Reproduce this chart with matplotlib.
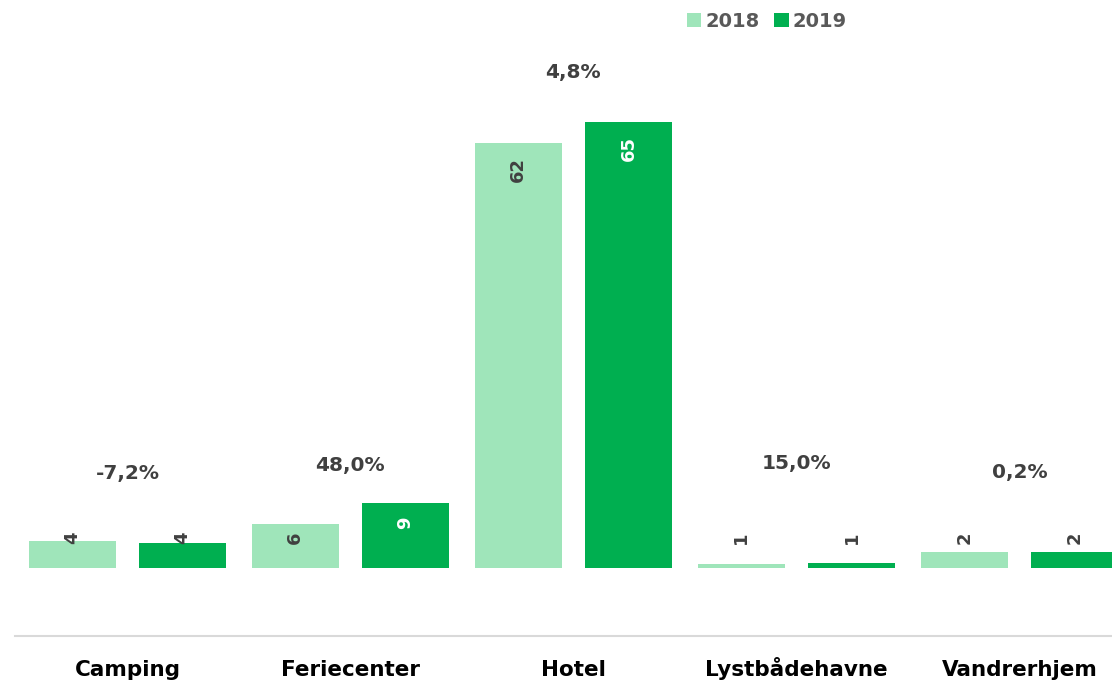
import matplotlib
matplotlib.use("Agg")
import matplotlib.pyplot as plt
import numpy as np

# ── Data ──────────────────────────────────────────────────────────────────────

categories = ["Camping", "Feriecenter", "Hotel", "Lystbådehavne", "Vandrerhjem"]
series_names = ["2018", "2019"]
values_2018 = [3.9, 6.4, 62.0, 0.6, 2.3]
values_2019 = [3.6, 9.5, 65.0, 0.7, 2.3]
value_labels_2018 = ["4", "6", "62", "1", "2"]
value_labels_2019 = ["4", "9", "65", "1", "2"]
change_labels = ["-7,2%", "48,0%", "4,8%", "15,0%", "0,2%"]

# ── Layout / style ────────────────────────────────────────────────────────────

LIGHT = "#9FE5BA"
DARK = "#00AF50"
TEXT = "#404040"
LEGEND_TEXT = "#595959"
FONT = ["DejaVu Sans"]

change_label_y = [13.8, 14.9, 72.3, 15.3, 14.0]  # heights of the % labels
MIN_LABEL_Y = 7.4  # value labels never sit lower than this

plt.rcParams["font.family"] = FONT

fig = plt.figure(figsize=(11.12, 6.8), dpi=100)
ax = fig.add_axes([15 / 1112, 1 - 636 / 680, 1 - 15 / 1112, (636 - 40) / 680])

x = np.arange(len(categories))
w = 0.39
off = 0.247

bars_a = ax.bar(x - off, values_2018, width=w, color=LIGHT, label=series_names[0])
bars_b = ax.bar(x + off, values_2019, width=w, color=DARK, label=series_names[1])

for bars, labels, color_in in [(bars_a, value_labels_2018, TEXT),
                               (bars_b, value_labels_2019, "white")]:
    for bar, lab in zip(bars, labels):
        h = bar.get_height()
        inside = h > MIN_LABEL_Y
        y = max(h, MIN_LABEL_Y)
        ax.annotate(lab, (bar.get_x() + bar.get_width() / 2, y),
                    xytext=(0, -10), textcoords="offset points",
                    rotation=90, ha="center", va="top",
                    fontsize=13, fontweight="bold",
                    color=color_in if inside else TEXT)

for xi, lab, yy in zip(x, change_labels, change_label_y):
    ax.text(xi, yy, lab, ha="center", va="center", fontsize=14.5,
            fontweight="bold", color=TEXT)

ax.set_xlim(-0.504, 4.415)
ax.set_ylim(-9.9, 77)
ax.set_xticks(x)
ax.set_xticklabels(categories, fontsize=15.5, fontweight="bold", color="black",
                   va="baseline")
ax.tick_params(axis="x", length=0, pad=28.5)
ax.set_yticks([])
for s in ["top", "right", "left"]:
    ax.spines[s].set_visible(False)
ax.spines["bottom"].set_color("#D9D9D9")
ax.spines["bottom"].set_linewidth(1.5)

leg = fig.legend(loc="upper left", bbox_to_anchor=(679 / 1112, 1 - 4 / 680),
                 ncol=2, frameon=False, handlelength=0.75, handleheight=0.75,
                 handletextpad=0.2, columnspacing=0.75, borderaxespad=0,
                 prop={"family": FONT, "weight": "bold", "size": 14})
for t in leg.get_texts():
    t.set_color(LEGEND_TEXT)

fig.savefig("out.png", dpi=100)
